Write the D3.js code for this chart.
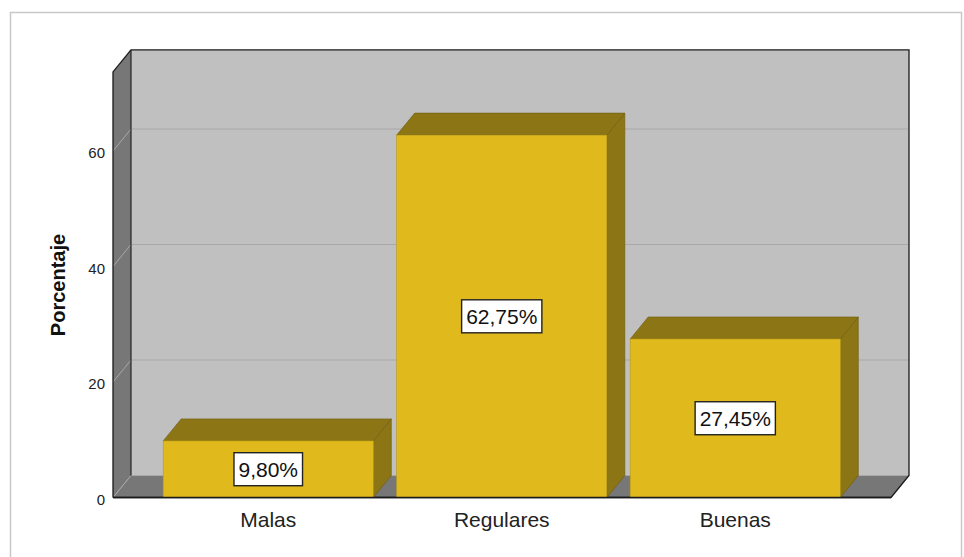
<!DOCTYPE html>
<html>
<head>
<meta charset="utf-8">
<script src="https://cdn.jsdelivr.net/npm/d3@7"></script>
<style>
  html, body { margin: 0; padding: 0; background: #fff; }
  svg { display: block; font-family: "Liberation Sans", Arial, sans-serif; }
</style>
</head>
<body>
<svg id="chart" width="964" height="557"></svg>
<script>
// Data
const categories = ["Malas", "Regulares", "Buenas"];
const values = [9.80, 62.75, 27.45];
const valueLabels = ["9,80%", "62,75%", "27,45%"];
const yTicks = [0, 20, 40, 60];
const yTitle = "Porcentaje";

// Layout
const svg = d3.select("#chart");
const plotLeft = 113, plotRight = 891, baseY = 497.5;
const depthX = 18, depthY = 22;          // 3D depth offset (back = front + offset)
const yMax = 73.7;

const y = d3.scaleLinear().domain([0, yMax]).range([baseY, baseY - yMax * 5.775]);
const x = d3.scaleBand().domain(categories).range([151.5, 852])
  .paddingInner(0.1).paddingOuter(0.05);

const colFront = "#E0B91C", colDark = "#8B7514", colEdge = "#6E5D10";
const wallCol = "#C0C0C0", sideCol = "#777777", gridCol = "#A8A8A8";

const line = d3.line();
const poly = pts => line(pts) + "Z";

// Outer frame
svg.append("rect").attr("x", 10.5).attr("y", 12.5).attr("width", 951).attr("height", 560)
  .attr("fill", "none").attr("stroke", "#C8C8C8").attr("stroke-width", 1.5);

const topY = y(yMax);
// Back wall
svg.append("path")
  .attr("d", poly([[plotLeft + depthX, topY - depthY], [plotRight + depthX, topY - depthY],
                   [plotRight + depthX, baseY - depthY], [plotLeft + depthX, baseY - depthY]]))
  .attr("fill", wallCol);
// Left wall
svg.append("path")
  .attr("d", poly([[plotLeft, topY], [plotLeft + depthX, topY - depthY],
                   [plotLeft + depthX, baseY - depthY], [plotLeft, baseY]]))
  .attr("fill", sideCol);
// Floor
svg.append("path")
  .attr("d", poly([[plotLeft, baseY], [plotLeft + depthX, baseY - depthY],
                   [plotRight + depthX, baseY - depthY], [plotRight, baseY]]))
  .attr("fill", sideCol);

// Gridlines on left wall and back wall
const grid = svg.append("g").attr("stroke", gridCol).attr("stroke-width", 1).attr("fill", "none");
yTicks.forEach(t => {
  grid.append("path").attr("d", line([[plotLeft, y(t)], [plotLeft + depthX, y(t) - depthY],
                                        [plotRight + depthX, y(t) - depthY]]));
});

// Frame edges
const edges = svg.append("g").attr("stroke", "#1a1a1a").attr("stroke-width", 1.3).attr("fill", "none");
edges.append("path").attr("d", line([[plotLeft, baseY], [plotLeft, topY], [plotLeft + depthX, topY - depthY],
                                       [plotRight + depthX, topY - depthY], [plotRight + depthX, baseY - depthY],
                                       [plotRight, baseY], [plotLeft, baseY]]));
edges.append("path").attr("d", line([[plotLeft + depthX, topY - depthY], [plotLeft + depthX, baseY - depthY]]))
  .attr("stroke-width", 1.1);

// Bars
const bars = svg.append("g").selectAll("g").data(categories).join("g");
bars.each(function(c, i) {
  const g = d3.select(this);
  const x0 = x(c), x1 = x(c) + x.bandwidth();
  const yt = y(values[i]), yb = y(0);
  // side face
  g.append("path")
    .attr("d", poly([[x1, yt], [x1 + depthX, yt - depthY], [x1 + depthX, yb - depthY], [x1, yb]]))
    .attr("fill", colDark).attr("stroke", colEdge).attr("stroke-width", 0.6);
  // top face
  g.append("path")
    .attr("d", poly([[x0, yt], [x0 + depthX, yt - depthY], [x1 + depthX, yt - depthY], [x1, yt]]))
    .attr("fill", colDark).attr("stroke", colEdge).attr("stroke-width", 0.6);
  // front face
  g.append("rect").attr("x", x0).attr("y", yt).attr("width", x1 - x0).attr("height", yb - yt)
    .attr("fill", colFront).attr("stroke", "#B89A18").attr("stroke-width", 0.6);
});

// Front floor edge over bars
svg.append("path").attr("d", line([[plotLeft, baseY], [plotRight, baseY]]))
  .attr("stroke", "#1a1a1a").attr("stroke-width", 1.3);

// Value labels
bars.each(function(c, i) {
  const g = d3.select(this);
  const cx = x(c) + x.bandwidth() / 2;
  const cy = (y(values[i]) + y(0)) / 2;
  const box = g.append("rect");
  const txt = g.append("text").attr("x", cx).attr("y", cy + 7.5)
    .attr("text-anchor", "middle").attr("font-size", 21).attr("fill", "#111")
    .text(valueLabels[i]);
  const bb = txt.node().getBBox();
  box.attr("x", cx - bb.width / 2 - 4.5).attr("y", cy - 16.5)
    .attr("width", bb.width + 9).attr("height", 33)
    .attr("fill", "#fff").attr("stroke", "#222").attr("stroke-width", 1.4);
});

// Y tick labels
svg.append("g").selectAll("text").data(yTicks).join("text")
  .attr("x", 105).attr("y", d => y(d) + 7)
  .attr("text-anchor", "end").attr("font-size", 15).attr("fill", "#222")
  .text(d => d);

// Category labels
svg.append("g").selectAll("text").data(categories).join("text")
  .attr("x", d => x(d) + x.bandwidth() / 2).attr("y", 527)
  .attr("text-anchor", "middle").attr("font-size", 21).attr("fill", "#222")
  .text(d => d);

// Y axis title
svg.append("text").attr("transform", "translate(65,285) rotate(-90)")
  .attr("text-anchor", "middle").attr("font-size", 20).attr("font-weight", "bold")
  .attr("fill", "#111").text(yTitle);
</script>
</body>
</html>
